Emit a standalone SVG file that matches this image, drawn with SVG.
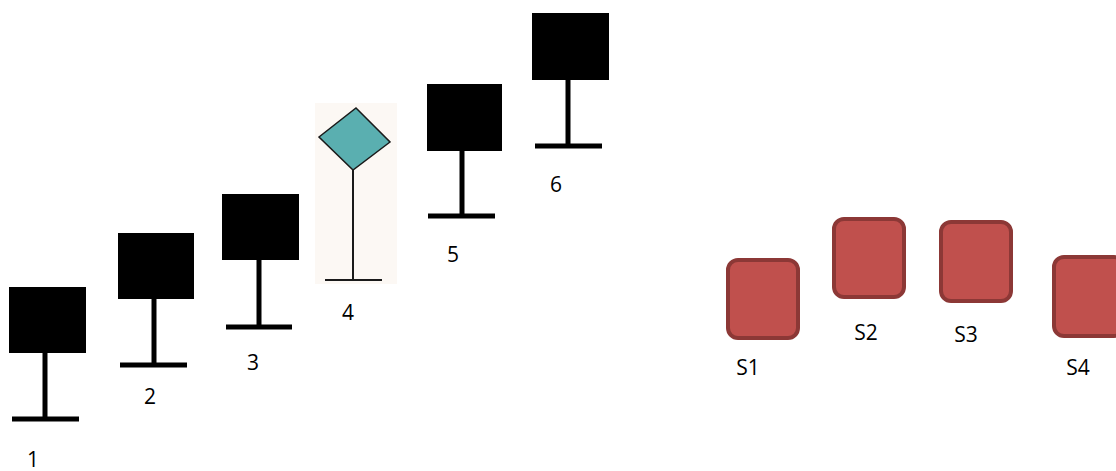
<svg xmlns="http://www.w3.org/2000/svg" width="1116" height="471" viewBox="0 0 1116 471">
<style>
.box{fill:#000}
.pole{stroke:#000;stroke-width:5;fill:none}
.thin{stroke:#1a1a1a;stroke-width:2;fill:none}
.lbl{font-family:"Open Sans","Liberation Sans",sans-serif;font-size:21px;fill:#000;text-anchor:middle}
.s{fill:#c0504d;stroke:#8c3836;stroke-width:4}
</style>
<rect width="1116" height="471" fill="#fff"/>
<g id="signal1">
<rect class="box" x="9" y="287" width="77" height="66"/>
<line class="pole" x1="45" y1="353" x2="45" y2="419"/>
<line class="pole" x1="12" y1="419" x2="79" y2="419"/>
<text class="lbl" x="33" y="467">1</text>
</g>
<g id="signal2">
<rect class="box" x="118" y="233" width="76" height="66"/>
<line class="pole" x1="154" y1="299" x2="154" y2="365"/>
<line class="pole" x1="120" y1="365" x2="187" y2="365"/>
<text class="lbl" x="150" y="404">2</text>
</g>
<g id="signal3">
<rect class="box" x="222" y="194" width="77" height="66"/>
<line class="pole" x1="259" y1="260" x2="259" y2="327"/>
<line class="pole" x1="226" y1="327" x2="292" y2="327"/>
<text class="lbl" x="253" y="370">3</text>
</g>
<g id="signal4">
<rect x="315" y="103" width="82" height="181" fill="#fcf8f4"/>
<polygon points="356,108 390,142 353,170 319,137" fill="#5aafb0" stroke="#1a1a1a" stroke-width="1.5"/>
<line class="thin" x1="353" y1="170" x2="353" y2="280"/>
<line class="thin" x1="325" y1="280" x2="382" y2="280"/>
<text class="lbl" x="348" y="320">4</text>
</g>
<g id="signal5">
<rect class="box" x="427" y="84" width="75" height="67"/>
<line class="pole" x1="462" y1="151" x2="462" y2="216"/>
<line class="pole" x1="428" y1="216" x2="495" y2="216"/>
<text class="lbl" x="453" y="262">5</text>
</g>
<g id="signal6">
<rect class="box" x="532" y="13" width="77" height="67"/>
<line class="pole" x1="568" y1="80" x2="568" y2="146"/>
<line class="pole" x1="535" y1="146" x2="602" y2="146"/>
<text class="lbl" x="556" y="192">6</text>
</g>
<g id="S1">
<rect class="s" x="728" y="260" width="70" height="78" rx="10"/>
<text class="lbl" x="748" y="375">S1</text>
</g>
<g id="S2">
<rect class="s" x="834" y="219" width="70" height="78" rx="10"/>
<text class="lbl" x="866" y="340">S2</text>
</g>
<g id="S3">
<rect class="s" x="941" y="222" width="70" height="79" rx="10"/>
<text class="lbl" x="966" y="342">S3</text>
</g>
<g id="S4">
<rect class="s" x="1054" y="257" width="70" height="79" rx="10"/>
<text class="lbl" x="1078" y="375">S4</text>
</g>
<g id="connectors"></g>
</svg>
